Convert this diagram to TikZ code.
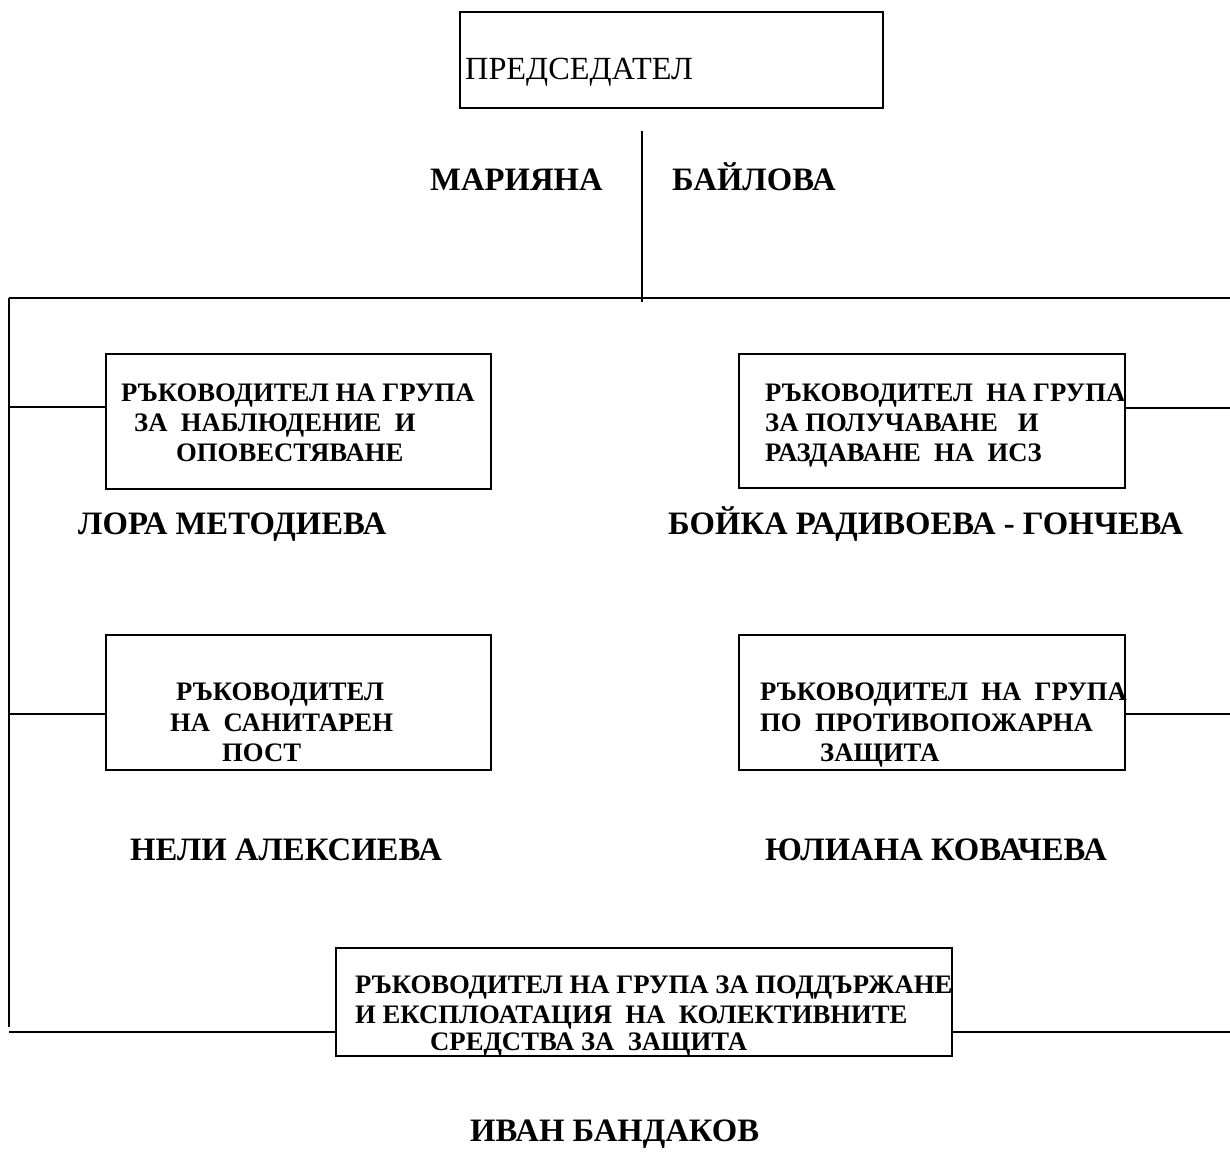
\documentclass[tikz,border=0pt]{standalone}
\usepackage{fontspec}
\setmainfont{Liberation Serif}
\begin{document}
\begin{tikzpicture}[x=1pt,y=-1pt,
  ln/.style={line width=1.8pt},
  boxs/.style={draw,line width=1.6pt,rectangle,anchor=north west,inner sep=0,minimum width=#1},
  nm/.style={font=\fontsize{32.7}{38}\selectfont\bfseries,inner sep=0,anchor=base west},
  bt/.style={font=\fontsize{26.7}{30}\selectfont\bfseries,inner sep=0,anchor=base west},
  ttl/.style={font=\fontsize{32.3}{38}\selectfont,inner sep=0,anchor=base west}]
\useasboundingbox (0,0) rectangle (1230,1165);
% boxes
\node[boxs=423,minimum height=96] (top) at (459,11) {};
\node[boxs=385,minimum height=135] (b1) at (105,353) {};
\node[boxs=386,minimum height=134] (b2) at (738,353) {};
\node[boxs=385,minimum height=135] (b3) at (105,634) {};
\node[boxs=386,minimum height=135] (b4) at (738,634) {};
\node[boxs=616,minimum height=108] (b5) at (335,947) {};
% texts
\node[ttl] (tt) at (465,79) {ПРЕДСЕДАТЕЛ};
\node[nm] (n1) at (430,190) {МАРИЯНА};
\node[nm] (n2) at (672,190) {БАЙЛОВА};
\node[bt] (t11) at (121,401) {РЪКОВОДИТЕЛ НА ГРУПА};
\node[bt] (t12) at (134,431) {ЗА\ \ НАБЛЮДЕНИЕ\ \ И};
\node[bt] (t13) at (176,461) {ОПОВЕСТЯВАНЕ};
\node[bt] (t21) at (765,401) {РЪКОВОДИТЕЛ\ \ НА ГРУПА};
\node[bt] (t22) at (765,431) {ЗА ПОЛУЧАВАНЕ\ \ \ И};
\node[bt] (t23) at (765,461) {РАЗДАВАНЕ\ \ НА\ \ ИСЗ};
\node[nm] (n3) at (78,534) {ЛОРА МЕТОДИЕВА};
\node[nm] (n4) at (668,534) {БОЙКА РАДИВОЕВА - ГОНЧЕВА};
\node[bt] (t31) at (176,700) {РЪКОВОДИТЕЛ};
\node[bt] (t32) at (170,731) {НА\ \ САНИТАРЕН};
\node[bt] (t33) at (222,761) {ПОСТ};
\node[bt] (t41) at (760,700) {РЪКОВОДИТЕЛ\ \ НА\ \ ГРУПА};
\node[bt] (t42) at (760,731) {ПО\ \ ПРОТИВОПОЖАРНА};
\node[bt] (t43) at (820,761) {ЗАЩИТА};
\node[nm] (n5) at (130,860) {НЕЛИ АЛЕКСИЕВА};
\node[nm] (n6) at (765,860) {ЮЛИАНА КОВАЧЕВА};
\node[bt] (t51) at (355,993) {РЪКОВОДИТЕЛ НА ГРУПА ЗА ПОДДЪРЖАНЕ};
\node[bt] (t52) at (355,1023) {И ЕКСПЛОАТАЦИЯ\ \ НА\ \ КОЛЕКТИВНИТЕ};
\node[bt] (t53) at (430,1050) {СРЕДСТВА ЗА\ \ ЗАЩИТА};
\node[nm] (n7) at (470,1141) {ИВАН БАНДАКОВ};
% connector coordinates
\coordinate (vt) at (642,131);
\coordinate (vb) at (642,302);
\coordinate (hl) at (9,298);
\coordinate (hr) at (1230,298);
\coordinate (lb) at (9,1027);
\coordinate (c1) at (9,407);
\coordinate (c2) at (1230,408);
\coordinate (c3) at (9,714);
\coordinate (c4) at (1230,714);
\coordinate (c5l) at (9,1032);
\coordinate (c5r) at (1230,1032);
% connectors
\draw[ln] (vt) -- (vb);
\draw[ln] (hl) -- (hr);
\draw[ln] (hl) -- (lb);
\draw[ln] (c1) -- (c1 -| b1.west);
\draw[ln] (c2) -- (c2 -| b2.east);
\draw[ln] (c3) -- (c3 -| b3.west);
\draw[ln] (c4) -- (c4 -| b4.east);
\draw[ln] (c5l) -- (c5l -| b5.west);
\draw[ln] (c5r) -- (c5r -| b5.east);
\end{tikzpicture}
\end{document}
